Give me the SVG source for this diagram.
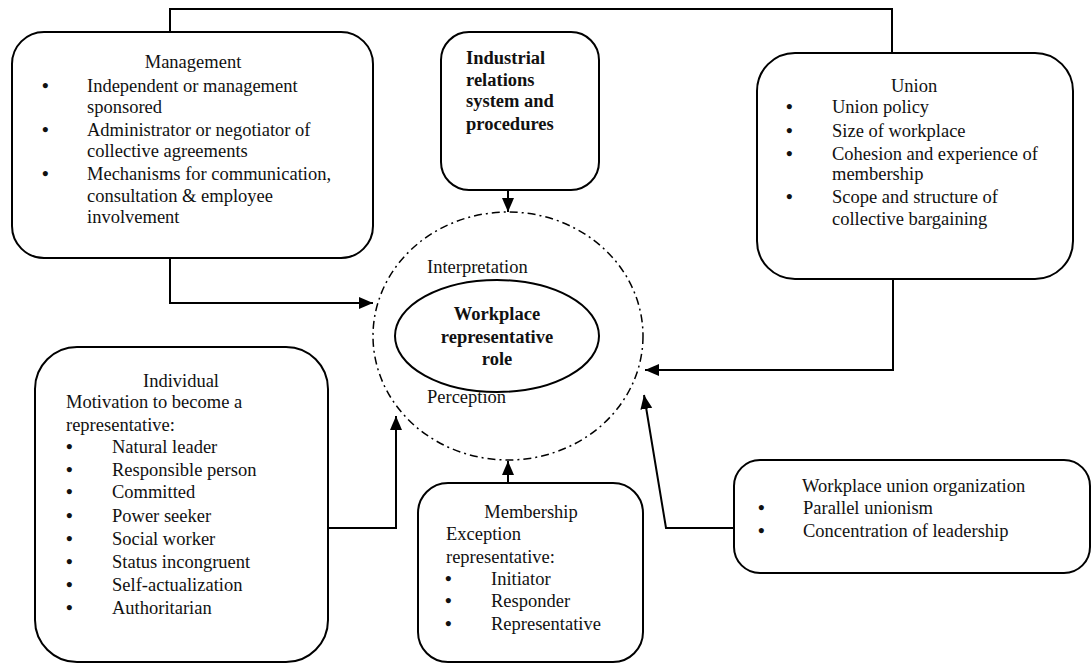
<svg xmlns="http://www.w3.org/2000/svg" width="1092" height="664" viewBox="0 0 1092 664">
<defs>
<marker id="ah" markerWidth="14" markerHeight="14" refX="14" refY="7" orient="auto" markerUnits="userSpaceOnUse">
<path d="M0,1 L14,7 L0,13 Z" fill="#000"/>
</marker>
<style>
text{font-family:"Liberation Serif","Times New Roman",serif;font-size:18.5px;fill:#111}
.b{font-weight:bold}
.c{text-anchor:middle}
.bl{font-weight:bold;font-size:19px}
.box{fill:#fff;stroke:#000;stroke-width:2}
.con{fill:none;stroke:#000;stroke-width:2}
</style>
</defs>
<rect width="1092" height="664" fill="#fff"/>
<g id="connectors">
<polyline class="con" points="170,32 170,9 892,9 892,53"/>
<polyline class="con" points="170,258 170,303 373,303" marker-end="url(#ah)"/>
<polyline class="con" points="508,190 508,212" marker-end="url(#ah)"/>
<polyline class="con" points="893,279 893,370 645,370" marker-end="url(#ah)"/>
<polyline class="con" points="328,528 396,528 396,416" marker-end="url(#ah)"/>
<polyline class="con" points="508,483 508,461" marker-end="url(#ah)"/>
<polyline class="con" points="734,528 666,528 644,395" marker-end="url(#ah)"/>
</g>
<g id="center">
<ellipse cx="508" cy="336" rx="135" ry="124" fill="none" stroke="#000" stroke-width="1.5" stroke-dasharray="8,4,2,4"/>
<text x="427" y="273">Interpretation</text>
<text x="427" y="403">Perception</text>
<ellipse cx="497" cy="336" rx="102" ry="56" fill="#fff" stroke="#000" stroke-width="2"/>
<text class="b c" x="497" y="320">Workplace</text>
<text class="b c" x="497" y="343">representative</text>
<text class="b c" x="497" y="365">role</text>
</g>
<g id="management">
<rect class="box" x="12" y="32" width="361" height="226" rx="32"/>
<text class="c" x="193" y="68">Management</text>
<text class="bl" x="42" y="92">•</text><text x="87" y="92">Independent or management</text>
<text x="87" y="113">sponsored</text>
<text class="bl" x="42" y="136">•</text><text x="87" y="136">Administrator or negotiator of</text>
<text x="87" y="157">collective agreements</text>
<text class="bl" x="42" y="180">•</text><text x="87" y="180">Mechanisms for communication,</text>
<text x="87" y="202">consultation &amp; employee</text>
<text x="87" y="223">involvement</text>
</g>
<g id="industrial">
<rect class="box" x="441" y="32" width="158" height="158" rx="28"/>
<text class="b" x="466" y="64">Industrial</text>
<text class="b" x="466" y="86">relations</text>
<text class="b" x="466" y="107">system and</text>
<text class="b" x="466" y="130">procedures</text>
</g>
<g id="union">
<rect class="box" x="757" y="53" width="316" height="226" rx="38"/>
<text class="c" x="914" y="92">Union</text>
<text class="bl" x="786" y="113">•</text><text x="832" y="113">Union policy</text>
<text class="bl" x="786" y="137">•</text><text x="832" y="137">Size of workplace</text>
<text class="bl" x="786" y="160">•</text><text x="832" y="160">Cohesion and experience of</text>
<text x="832" y="180">membership</text>
<text class="bl" x="786" y="203">•</text><text x="832" y="203">Scope and structure of</text>
<text x="832" y="225">collective bargaining</text>
</g>
<g id="individual">
<rect class="box" x="35" y="347" width="293" height="315" rx="42"/>
<text class="c" x="181" y="387">Individual</text>
<text x="66" y="408">Motivation to become a</text>
<text x="66" y="431">representative:</text>
<text class="bl" x="66" y="453">•</text><text x="112" y="453">Natural leader</text>
<text class="bl" x="66" y="476">•</text><text x="112" y="476">Responsible person</text>
<text class="bl" x="66" y="498">•</text><text x="112" y="498">Committed</text>
<text class="bl" x="66" y="522">•</text><text x="112" y="522">Power seeker</text>
<text class="bl" x="66" y="545">•</text><text x="112" y="545">Social worker</text>
<text class="bl" x="66" y="568">•</text><text x="112" y="568">Status incongruent</text>
<text class="bl" x="66" y="591">•</text><text x="112" y="591">Self-actualization</text>
<text class="bl" x="66" y="614">•</text><text x="112" y="614">Authoritarian</text>
</g>
<g id="membership">
<rect class="box" x="418" y="483" width="225" height="179" rx="30"/>
<text class="c" x="531" y="518">Membership</text>
<text x="446" y="540">Exception</text>
<text x="446" y="563">representative:</text>
<text class="bl" x="445" y="585">•</text><text x="491" y="585">Initiator</text>
<text class="bl" x="445" y="607">•</text><text x="491" y="607">Responder</text>
<text class="bl" x="445" y="630">•</text><text x="491" y="630">Representative</text>
</g>
<g id="workplace-union">
<rect class="box" x="734" y="460" width="356" height="113" rx="26"/>
<text x="802" y="492">Workplace union organization</text>
<text class="bl" x="758" y="514">•</text><text x="803" y="514">Parallel unionism</text>
<text class="bl" x="758" y="537">•</text><text x="803" y="537">Concentration of leadership</text>
</g>
</svg>
